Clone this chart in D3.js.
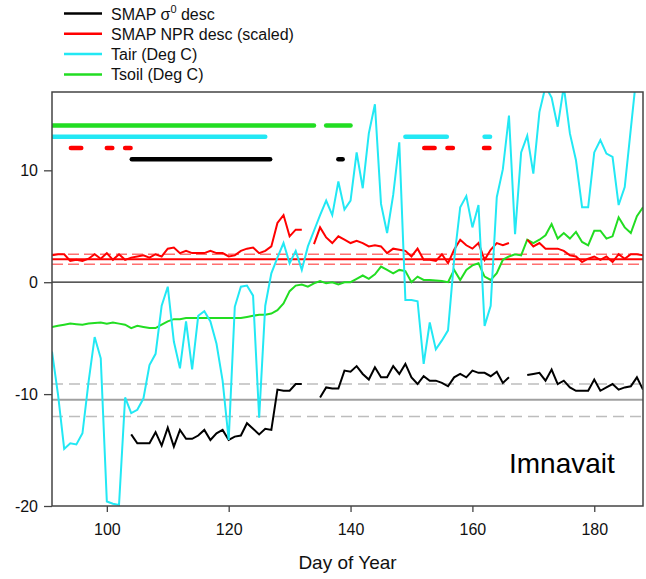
<!DOCTYPE html>
<html>
<head>
<meta charset="utf-8">
<script src="https://cdn.jsdelivr.net/npm/d3@7"></script>
<style>
  html, body { margin: 0; padding: 0; background: #fff; }
  svg { display: block; font-family: "Liberation Sans", Arial, sans-serif; }
</style>
</head>
<body>
<svg id="chart" width="646" height="579"></svg>
<script>
// ---------------- DATA ----------------
const startDay = 91;
const days = d3.range(91, 189); // 91..188

const sigma0 = [ // SMAP sigma0 desc (dB), null = missing
  null,null,null,null,null,null,null,null,null,null,null,null,null, // 91-103
  -13.6,-14.4,-14.4,-14.4,-13.4,-14.6,-13.0,-14.7,-13.2,-14.0,      // 104-113
  -14.0,-13.7,-13.2,-14.1,-13.5,-13.2,-14.1,-13.8,-13.7,-12.6,      // 114-123
  -13.1,-13.6,-13.1,-13.2,-9.6,-9.7,-9.7,-9.1,-9.1,                 // 124-132
  null,null,                                                        // 133-134
  -10.3,-9.4,-9.5,-9.5,-7.9,-8.0,-7.5,-8.2,-8.7,-7.6,               // 135-144
  -8.5,-8.5,-7.5,-8.2,-7.3,-8.5,-9.1,-8.4,-8.8,-8.8,                // 145-154
  -9.0,-9.3,-8.5,-8.2,-8.5,-7.9,-8.1,-8.1,-8.4,-8.0,                // 155-164
  -9.0,-8.5,                                                        // 165-166
  null,null,                                                        // 167-168
  -8.3,-8.2,-8.1,-8.8,-7.8,-9.1,-8.8,-9.4,-9.7,-9.7,                // 169-178
  -9.7,-8.7,-9.7,-9.4,-9.1,-9.6,-9.4,-9.3,-8.5,-9.6                 // 179-188
];

const npr = [ // SMAP NPR desc (scaled)
  2.4,2.5,2.5,1.9,2.0,1.9,2.1,2.5,2.1,2.6,                          // 91-100
  2.0,2.5,2.0,2.2,2.3,2.4,2.2,2.5,2.3,3.0,                          // 101-110
  3.1,2.6,2.8,2.6,2.6,2.6,2.8,2.6,2.6,2.3,                          // 111-120
  2.4,2.8,3.0,3.1,2.6,2.8,3.2,5.3,6.0,4.1,                          // 121-130
  4.7,4.7,null,3.4,4.9,4.0,3.5,4.1,3.8,3.5,                         // 131-140
  3.7,3.5,3.2,3.3,3.2,2.6,3.0,2.9,2.8,2.3,                          // 141-150
  3.0,2.0,2.0,1.9,2.5,1.7,2.9,3.8,3.3,3.0,                          // 151-160
  3.5,2.0,2.9,3.5,3.3,3.5,null,null,3.8,3.2,                        // 161-170
  3.5,3.0,3.0,3.0,2.8,2.4,2.3,1.8,2.1,2.3,                          // 171-180
  2.0,2.3,1.8,2.5,2.1,2.5,2.5,2.4                                   // 181-188
];

const tair = [ // Tair (Deg C)
  -6.2,-10.1,-14.9,-14.4,-14.5,-13.5,-8.9,-4.9,-6.8,-19.6,          // 91-100
  -19.8,-19.9,-10.3,-11.7,-11.4,-10.4,-7.4,-6.4,-2.1,-0.4,          // 101-110
  -5.3,-7.7,-3.5,-7.8,-3.0,-2.6,-3.5,-5.5,-8.8,-14.1,               // 111-120
  -2.2,-0.4,-0.3,-1.2,-12.1,-2.1,0.8,2.2,3.5,1.7,                   // 121-130
  2.8,1.1,3.2,4.6,6.0,7.3,6.0,9.0,6.5,7.3,                          // 131-140
  11.6,8.4,13.3,15.9,7.0,4.4,7.8,12.5,-1.6,-1.6,                    // 141-150
  -1.7,-7.3,-3.6,-6.0,-5.2,-4.3,2.0,6.7,7.7,4.9,                    // 151-160
  6.9,-3.9,-2.1,7.6,10.1,14.9,4.3,11.6,13.1,9.7,                    // 161-170
  15.2,17.5,16.5,13.9,17.5,13.3,10.9,6.7,6.7,11.6,                  // 171-180
  12.7,11.5,11.2,6.9,8.5,13.7,18.9                                  // 181-187
];

const tsoil = [ // Tsoil (Deg C)
  -4.0,-3.9,-3.8,-3.7,-3.75,-3.8,-3.7,-3.65,-3.6,-3.7,              // 91-100
  -3.6,-3.7,-3.8,-4.1,-3.9,-4.0,-4.1,-4.1,-3.8,-3.5,                // 101-110
  -3.3,-3.3,-3.2,-3.2,-3.2,-3.2,-3.2,-3.2,-3.2,-3.2,                // 111-120
  -3.2,-3.2,-3.1,-3.0,-2.9,-2.9,-2.8,-2.5,-1.9,-0.8,                // 121-130
  -0.3,-0.2,-0.4,-0.1,0.1,-0.1,0.0,-0.2,0.0,0.0,                    // 131-140
  0.3,0.6,0.3,0.7,1.4,1.1,0.8,1.1,1.0,0.0,                          // 141-150
  0.5,0.2,0.2,0.15,0.1,0.0,1.1,0.2,1.1,1.5,                         // 151-160
  1.7,0.5,0.2,0.8,2.0,2.3,2.5,2.4,3.8,3.5,                          // 161-170
  3.8,4.2,5.2,3.9,4.4,3.9,4.5,3.6,3.3,4.6,                          // 171-180
  4.6,3.9,4.1,5.8,4.9,4.4,5.9,6.7                                   // 181-188
];

// status bars: [startDay, endDay]
const tsoilBars = [[91, 134.0], [136.0, 140.0]];
const tairBars  = [[91, 126.0], [149.0, 155.8], [162.0, 162.9]];
const nprBars   = [[94.1, 95.8], [100.0, 100.9], [103.0, 103.9], [152.1, 153.8], [155.9, 156.8], [161.9, 162.8]];
const sigmaBars = [[104.1, 126.8], [138.0, 138.7]];
const barLevels = { tsoil: 14, tair: 13, npr: 12, sigma: 11 };

// reference lines
const nprMean = 2.05, nprBand = [2.5, 1.6];
const sigmaMean = -10.5, sigmaBand = [-9.1, -12.0];

const xTicks = [100, 120, 140, 160, 180];
const yTicks = [10, 0, -10, -20];

const legendItems = [
  { label: "SMAP σ", sup: "0", tail: " desc", color: "#000000" },
  { label: "SMAP NPR desc (scaled)", color: "#ff0000" },
  { label: "Tair (Deg C)", color: "#22e8f4" },
  { label: "Tsoil (Deg C)", color: "#22dd22" }
];

// ---------------- LAYOUT ----------------
const svg = d3.select("#chart");
const m = { left: 52, top: 92, right: 643, bottom: 506 };
const x = d3.scaleLinear().domain([91, 188]).range([m.left, m.right]);
const y = d3.scaleLinear().domain([-20, 17]).range([m.bottom, m.top]);

const COL = { black: "#000000", red: "#ff0000", cyan: "#22e8f4", green: "#22dd22" };

svg.append("defs").append("clipPath").attr("id", "clip")
  .append("rect").attr("x", m.left).attr("y", m.top)
  .attr("width", m.right - m.left).attr("height", m.bottom - m.top);

const plot = svg.append("g").attr("clip-path", "url(#clip)");

// reference lines
function hline(v, color, dash, w) {
  plot.append("line")
    .attr("x1", m.left).attr("x2", m.right)
    .attr("y1", y(v)).attr("y2", y(v))
    .attr("stroke", color).attr("stroke-width", w)
    .attr("stroke-dasharray", dash || null);
}
hline(0, "#222", null, 1.2);
nprBand.forEach(v => hline(v, "#ff7070", "11,5", 1.6));
hline(nprMean, "#ff0000", null, 2);
sigmaBand.forEach(v => hline(v, "#bdbdbd", "11,6", 1.6));
hline(sigmaMean, "#a0a0a0", null, 2);

// series
function series(vals, color) {
  const pts = vals.map((v, i) => ({ d: startDay + i, v }));
  const line = d3.line()
    .defined(p => p.v !== null)
    .x(p => x(p.d)).y(p => y(p.v));
  plot.append("path").datum(pts)
    .attr("fill", "none").attr("stroke", color)
    .attr("stroke-width", 2).attr("stroke-linejoin", "miter")
    .attr("d", line);
}
series(tsoil, COL.green);
series(npr, COL.red);
series(sigma0, COL.black);
series(tair, COL.cyan);

// status bars
function bars(list, level, color) {
  plot.selectAll(null).data(list).enter().append("line")
    .attr("x1", d => x(d[0])).attr("x2", d => x(d[1]))
    .attr("y1", y(level)).attr("y2", y(level))
    .attr("stroke", color).attr("stroke-width", 4.5)
    .attr("stroke-linecap", "round");
}
bars(tsoilBars, barLevels.tsoil, COL.green);
bars(tairBars, barLevels.tair, COL.cyan);
bars(nprBars, barLevels.npr, COL.red);
bars(sigmaBars, barLevels.sigma, COL.black);

// frame
svg.append("rect").attr("x", m.left).attr("y", m.top)
  .attr("width", m.right - m.left).attr("height", m.bottom - m.top)
  .attr("fill", "none").attr("stroke", "#444").attr("stroke-width", 1.5);

// axes
const xAxis = svg.append("g").attr("transform", `translate(0,${m.bottom})`)
  .call(d3.axisBottom(x).tickValues(xTicks).tickSize(6).tickPadding(12).tickFormat(d3.format("d")));
const yAxis = svg.append("g").attr("transform", `translate(${m.left},0)`)
  .call(d3.axisLeft(y).tickValues(yTicks).tickSize(8).tickPadding(6).tickFormat(d => d < 0 ? "-" + Math.abs(d) : d));
[xAxis, yAxis].forEach(g => {
  g.select(".domain").remove();
  g.selectAll(".tick line").attr("stroke", "#444").attr("stroke-width", 1.3);
  g.selectAll(".tick text").attr("fill", "#111").style("font-size", "16px")
    .style("font-family", '"Liberation Sans", Arial, sans-serif');
});

// axis title
svg.append("text").attr("x", (m.left + m.right) / 2).attr("y", 569)
  .attr("text-anchor", "middle").attr("fill", "#111")
  .style("font-size", "19px").text("Day of Year");

// site label
svg.append("text").attr("x", 509).attr("y", 473)
  .attr("fill", "#000").style("font-size", "28px").text("Imnavait");

// legend
const leg = svg.append("g");
legendItems.forEach((it, i) => {
  const ly = 13.5 + i * 20.3;
  leg.append("line").attr("x1", 64).attr("x2", 102).attr("y1", ly).attr("y2", ly)
    .attr("stroke", it.color).attr("stroke-width", 2.5);
  const t = leg.append("text").attr("x", 111).attr("y", ly + 6)
    .attr("fill", "#111").style("font-size", "16px");
  t.append("tspan").text(it.label);
  if (it.sup) {
    t.append("tspan").attr("dy", -7).style("font-size", "11px").text(it.sup);
    t.append("tspan").attr("dy", 7).text(it.tail);
  }
});
</script>
</body>
</html>
